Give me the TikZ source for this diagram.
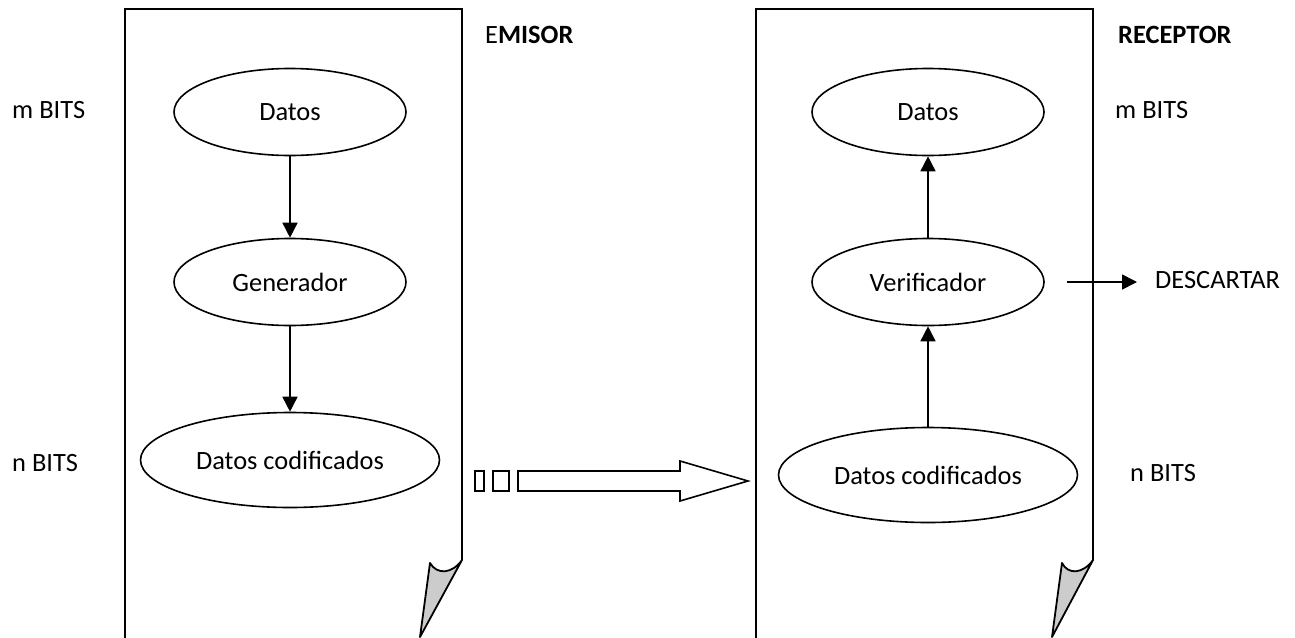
\documentclass[tikz,border=0pt]{standalone}
\usepackage{fontspec}
\setmainfont{Carlito}
\usetikzlibrary{shapes.geometric,arrows.meta}
\begin{document}
\begin{tikzpicture}[x=1pt,y=-1pt,
  lw/.style={line width=1.8pt},
  oval/.style={ellipse, draw, line width=1.6pt, inner sep=0pt, font=\fontsize{26.4}{30}\selectfont},
  small/.style={oval, minimum width=232pt, minimum height=87pt},
  wide/.style={oval, minimum width=299pt, minimum height=95pt},
  lbl/.style={anchor=west, inner sep=0pt, font=\fontsize{26.4}{30}\selectfont},
  conn/.style={line width=1.6pt, -{Triangle[length=15pt,width=15pt]}},
  pagefold/.style={fill=black!20, draw, line width=1.8pt, line join=round},
]
\useasboundingbox (0,0) rectangle (1295,637);

% pages
\draw[lw] (125,640) -- (125,9) -- (462,9) -- (462,560);
\draw[pagefold] (462,560) .. controls (452,574) and (437,575) .. (430,563) -- (420,637) -- cycle;
\draw[lw] (756,640) -- (756,9) -- (1093,9) -- (1093,560);
\draw[pagefold] (1093,560) .. controls (1083,574) and (1068,575) .. (1062,563) -- (1052,637) -- cycle;

% emisor
\node[small] (d1) at (290,112) {Datos};
\node[small] (g1) at (290,282) {Generador};
\node[wide]  (c1) at (290,460) {Datos codificados};

% receptor
\node[small] (d2) at (928,112) {Datos};
\node[small] (v2) at (928,282) {Verificador};
\node[wide]  (c2) at (928,475) {Datos codificados};

% labels
\node[lbl] (mb1) at (12,110) {m BITS};
\node[lbl] (nb1) at (12,463) {n BITS};
\node[lbl] (em)  at (485,35) {E\textbf{MISOR}};
\node[lbl] (rc)  at (1118,35) {\textbf{RECEPTOR}};
\node[lbl] (mb2) at (1115,110) {m BITS};
\node[lbl] (nb2) at (1130,473) {n BITS};
\node[lbl] (ds)  at (1155,280) {DESCARTAR};

% connectors
\draw[conn] (d1) -- (g1);
\draw[conn] (g1) -- (c1);
\draw[conn] (c2) -- (v2);
\draw[conn] (v2) -- (d2);
\draw[conn] ([xshift=22pt]v2.east) -- ([xshift=-18pt]v2.east -| ds.west);

% transmission arrow
\draw[line width=1.6pt] (475,471) rectangle (484,491);
\draw[line width=1.6pt] (493,471) rectangle (509,491);
\draw[line width=1.6pt, line join=miter] (518,471) -- (680,471) -- (680,461) -- (748,481) -- (680,501) -- (680,491) -- (518,491) -- cycle;
\end{tikzpicture}
\end{document}
